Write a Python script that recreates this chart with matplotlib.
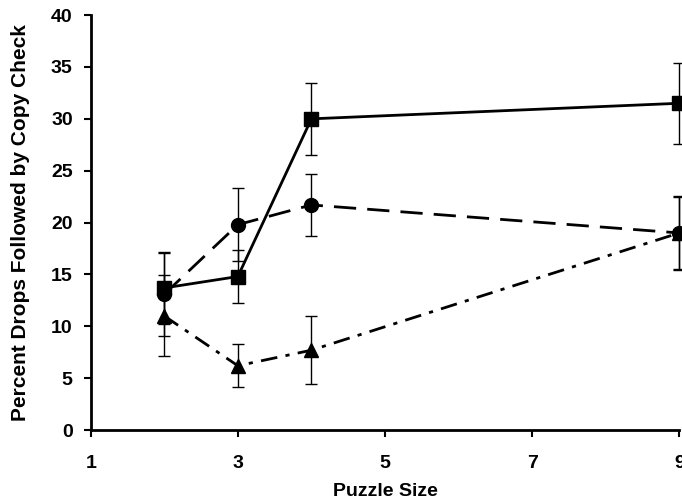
import matplotlib
matplotlib.use('Agg')
import matplotlib.pyplot as plt

plt.rcParams['font.family'] = ['Liberation Sans', 'DejaVu Sans']
plt.rcParams['font.weight'] = 'bold'

sizes_sq = [2, 3, 4, 9]
square = [13.7, 14.8, 30.0, 31.5]
square_err = [3.5, 2.6, 3.5, 3.9]

sizes_ci = [2, 3, 4, 9]
circle = [13.1, 19.8, 21.7, 19.0]
circle_err = [4.0, 3.5, 3.0, 3.6]

sizes_tr = [2, 3, 4, 9]
triangle = [11.0, 6.2, 7.7, 19.0]
triangle_err = [3.9, 2.05, 3.3, 3.5]

fig = plt.figure(figsize=(6.82, 5.03), dpi=100)
ax = fig.add_axes([0.133, 0.145, 0.863, 0.825])

ax.errorbar(sizes_sq, square, yerr=square_err, color='black', marker='s', markersize=9.5,
            linewidth=2, linestyle='-', elinewidth=1, capsize=4, capthick=1, clip_on=False)
ax.errorbar(sizes_ci, circle, yerr=circle_err, color='black', marker='o', markersize=10,
            linewidth=2, linestyle=(0, (8, 4)), elinewidth=1, capsize=4, capthick=1, clip_on=False)
ax.errorbar(sizes_tr, triangle, yerr=triangle_err, color='black', marker='^', markersize=10,
            linewidth=2, linestyle=(0, (6, 3, 1.5, 3)), elinewidth=1, capsize=4, capthick=1, clip_on=False)

ax.set_xlim(1, 9)
ax.set_ylim(0, 40)
ax.set_xticks([1, 3, 5, 7, 9])
ax.set_yticks(range(0, 41, 5))
ax.spines['top'].set_visible(False)
ax.spines['right'].set_visible(False)
ax.spines['left'].set_linewidth(2)
ax.spines['bottom'].set_linewidth(2)
ax.tick_params(direction='out', length=5, width=1.5, labelsize=14)
ax.tick_params(axis='x', pad=13)
ax.tick_params(axis='y', pad=8)
for lab in ax.get_xticklabels() + ax.get_yticklabels():
    lab.set_fontweight('bold')
ax.set_xlabel('Puzzle Size', fontsize=14, fontweight='bold', labelpad=8)
ax.set_ylabel('Percent Drops Followed by Copy Check', fontsize=15, fontweight='bold', labelpad=15)

fig.savefig('out.png', dpi=100)
